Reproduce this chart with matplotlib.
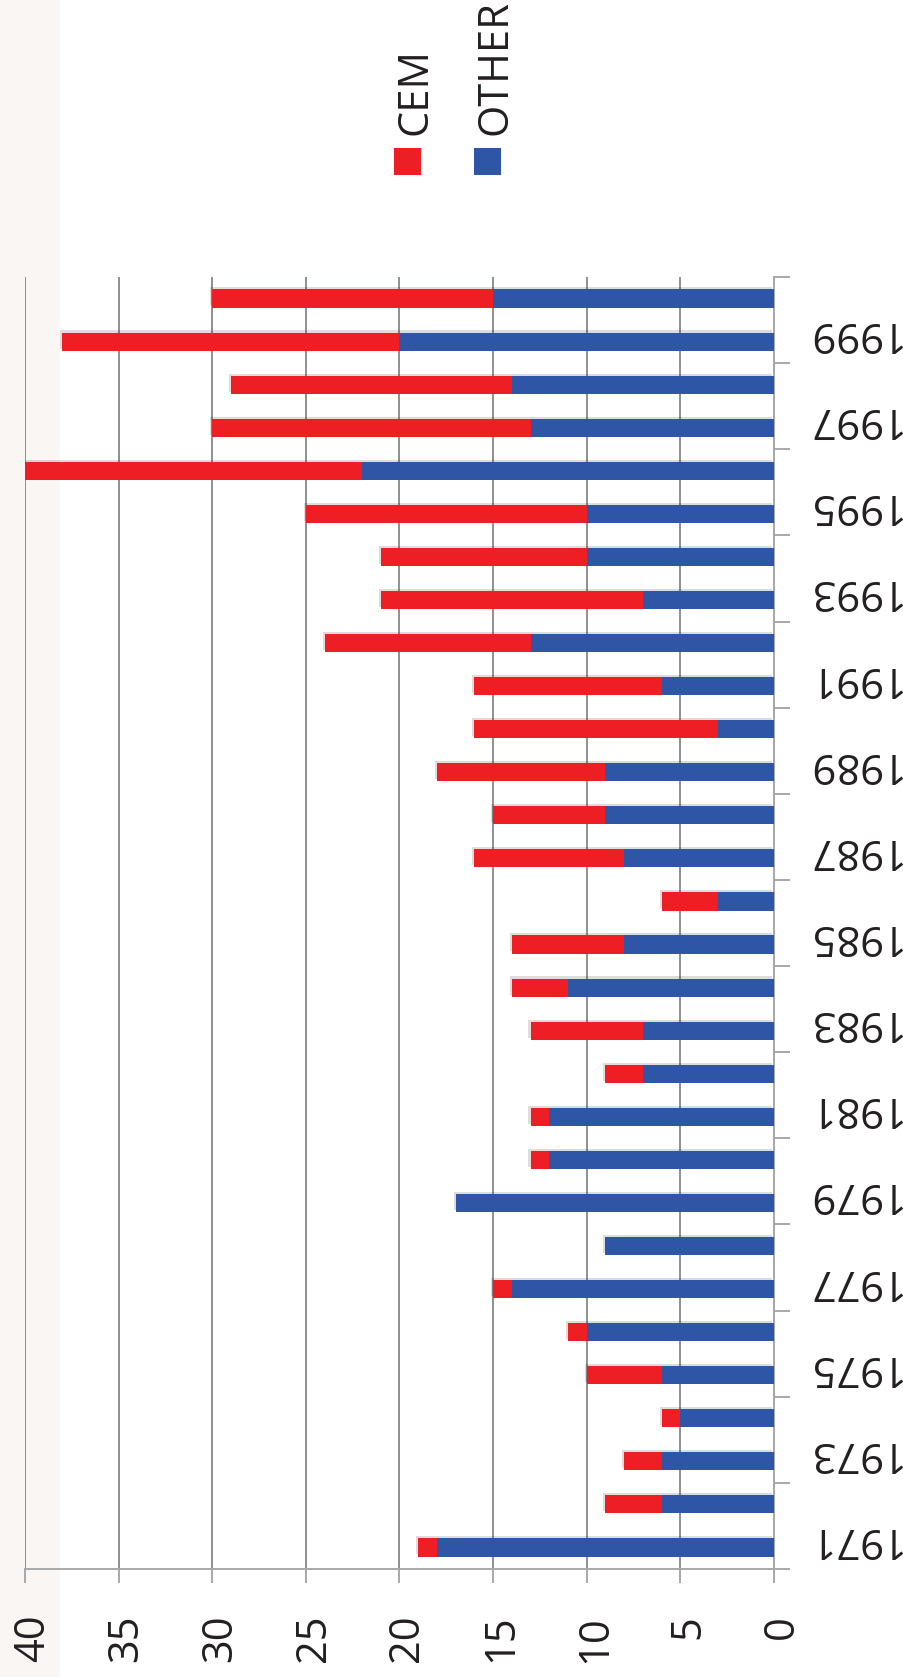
import numpy as np
import matplotlib
matplotlib.use("Agg")
import matplotlib.pyplot as plt
import matplotlib.patheffects as pe
from matplotlib.patches import Rectangle
from matplotlib.transforms import ScaledTranslation

plt.rcParams['font.family'] = ['Open Sans', 'DejaVu Sans']

years = list(range(1971, 2001))
other = [18, 6, 6, 5, 6, 10, 14, 9, 17, 12, 12, 7, 7, 11, 8, 3, 8, 9, 9, 3,
         6, 13, 7, 10, 10, 22, 13, 14, 20, 15]
cem = [1, 3, 2, 1, 4, 1, 1, 0, 0, 1, 1, 2, 6, 3, 6, 3, 8, 6, 9, 13,
       10, 11, 14, 11, 15, 18, 17, 15, 18, 15]
value_ticks = [0, 5, 10, 15, 20, 25, 30, 35, 40]
series_names = ['CEM', 'OTHER']

RED = '#ED1F24'
BLUE = '#2F55A6'
GRID = '#8f8f8f'
AXIS = '#a8a8a8'
TEXT = '#231f20'

W, H = 904, 1677
fig = plt.figure(figsize=(W / 100, H / 100), dpi=100)

# faint off-white strip along the left edge, behind everything
fig.patches.append(Rectangle((0, 0), 60 / W, 1, transform=fig.transFigure,
                             facecolor='#f9f6f3', edgecolor='none', zorder=-5))

ax = fig.add_axes([25 / W, 1 - 1569 / H, 749 / W, 1292 / H])
ax.patch.set_alpha(0)

pos = np.arange(len(years))
shadow = [pe.SimplePatchShadow(offset=(-1.5, 1.5), alpha=0.15), pe.Normal()]
ax.barh(pos, other, height=0.42, color=BLUE, zorder=3, path_effects=shadow)
ax.barh(pos, cem, left=other, height=0.42, color=RED, zorder=3, path_effects=shadow)

ax.set_xlim(40, 0)
ax.set_ylim(-0.5, len(years) - 0.5)

# value axis (bottom)
ax.set_xticks(value_ticks)
ax.set_xticklabels([str(v) for v in value_ticks], rotation=90, fontsize=30, color=TEXT)
ax.tick_params(axis='x', length=10, width=1.4, color=AXIS, pad=23)
ax.grid(axis='x', color=GRID, linewidth=1.4, zorder=1)
shift_x = ScaledTranslation(0.08, 0, fig.dpi_scale_trans)
for lbl in ax.get_xticklabels():
    lbl.set_transform(lbl.get_transform() + shift_x)

# category axis (right)
ax.yaxis.tick_right()
ax.set_yticks(np.arange(-0.5, len(years), 2))
ax.set_yticklabels([])
ax.set_yticks(pos[::2], minor=True)
ax.set_yticklabels([str(y) for y in years[::2]], minor=True, rotation=180,
                   fontsize=30, color=TEXT, va='center')
ax.tick_params(axis='y', which='major', length=11.5, width=1.4, color=AXIS)
ax.tick_params(axis='y', which='minor', length=0, pad=22)
shift_y = ScaledTranslation(0, 0.085, fig.dpi_scale_trans)
for lbl in ax.get_yticklabels(minor=True):
    lbl.set_transform(lbl.get_transform() + shift_y)

for side in ['top', 'left']:
    ax.spines[side].set_visible(False)
for side in ['bottom', 'right']:
    ax.spines[side].set_color(AXIS)
    ax.spines[side].set_linewidth(1.4)

# legend, rotated like the rest of the chart
for name, color, x0 in zip(series_names, [RED, BLUE], [394, 474]):
    fig.patches.append(Rectangle((x0 / W, 1 - 175 / H), 27 / W, 27 / H,
                                 transform=fig.transFigure, facecolor=color,
                                 edgecolor='none'))
    fig.text((x0 + 21.5) / W, 1 - 135 / H, name, rotation=90, fontsize=30,
             color=TEXT, ha='center', va='bottom')

fig.savefig('out.png', dpi=100)
